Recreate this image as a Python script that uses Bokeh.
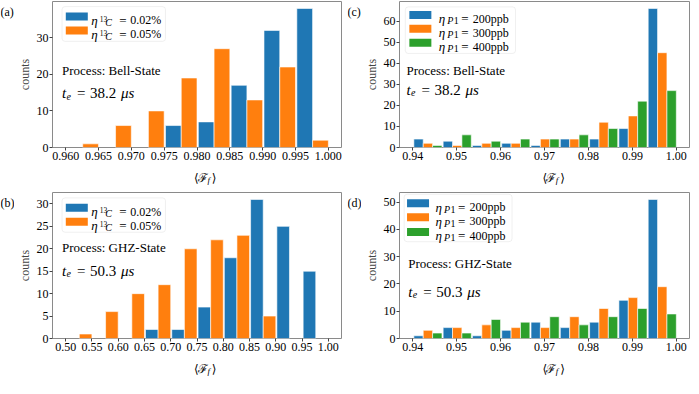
import numpy as np
from bokeh.plotting import figure
from bokeh.models import FixedTicker, PrintfTickFormatter, Label, BoxAnnotation, Range1d
from bokeh.layouts import column, row
from bokeh.embed import file_html
from bokeh.resources import INLINE

# ---------------- data ----------------
# panel (a): Bell-State, 13C concentration
a_bin_start, a_bin_width = 0.960, 0.005
a_counts_002 = [0, 0, 0, 6, 7, 17, 32, 38]
a_counts_005 = [1, 6, 10, 19, 27, 13, 22, 2]
a_xticks = [0.960, 0.965, 0.970, 0.975, 0.980, 0.985, 0.990, 0.995, 1.000]
a_yticks = [0, 10, 20, 30]

# panel (b): GHZ-State, 13C concentration
b_bin_start, b_bin_width = 0.50, 0.05
b_counts_002 = [0, 0, 0, 2, 2, 7, 18, 31, 25, 15]
b_counts_005 = [1, 6, 10, 12, 20, 22, 23, 5, 0, 0]
b_xticks = [0.50, 0.55, 0.60, 0.65, 0.70, 0.75, 0.80, 0.85, 0.90, 0.95, 1.00]
b_yticks = [0, 5, 10, 15, 20, 25, 30]

# panel (c): Bell-State, P1 concentration
c_bin_start, c_bin_width = 0.94, 0.06 / 9
c_counts_200 = [4, 3, 1, 2, 1, 4, 4, 9, 66]
c_counts_300 = [2, 1, 2, 2, 4, 4, 12, 15, 45]
c_counts_400 = [1, 6, 3, 4, 4, 6, 9, 22, 27]
c_xticks = [0.94, 0.95, 0.96, 0.97, 0.98, 0.99, 1.00]
c_yticks = [0, 10, 20, 30, 40, 50, 60]

# panel (d): GHZ-State, P1 concentration
d_bin_start, d_bin_width = 0.94, 0.06 / 9
d_counts_200 = [1, 4, 1, 3, 6, 4, 6, 14, 51]
d_counts_300 = [3, 4, 5, 4, 4, 8, 11, 15, 19]
d_counts_400 = [2, 2, 7, 6, 8, 5, 8, 11, 9]
d_xticks = [0.94, 0.95, 0.96, 0.97, 0.98, 0.99, 1.00]
d_yticks = [0, 10, 20, 30, 40, 50]

c13_labels = ["0.02%", "0.05%"]
p1_labels = ["200ppb", "300ppb", "400ppb"]

# ---------------- styling ----------------
SERIF = "Liberation Serif"
MATHF = "DejaVu Serif"
BLUE, ORANGE, GREEN = "#1f77b4", "#ff7f0e", "#2ca02c"
FH = 146          # frame height
XLAB_H = 21       # height of the strip carrying the x-axis label
LAUX_W = 14       # width of the strip carrying the panel letter


def make_fig(fw, bl, br, bt, bb, start, width, series, xticks, yticks, fmt):
    nbins = len(series[0])
    span = nbins * width
    xr = (start - 0.05 * span, start + span + 0.05 * span)
    ymax = max(max(s) for s in series)
    yr = (0, 1.05 * ymax)
    p = figure(frame_width=fw, frame_height=FH, min_border_left=bl, min_border_right=br,
               min_border_top=bt, min_border_bottom=bb,
               x_range=Range1d(*xr), y_range=Range1d(*yr),
               output_backend="svg", toolbar_location=None, tools="")
    p.background_fill_color = "white"
    p.border_fill_color = "white"
    p.outline_line_color = "#8a8a8a"
    p.outline_line_width = 1
    p.grid.visible = False
    for ax in (p.xaxis, p.yaxis):
        ax.axis_line_color = None
        ax.major_tick_in = 0
        ax.major_tick_out = 3
        ax.major_tick_line_color = "#444444"
        ax.minor_tick_line_color = None
        ax.major_label_text_font = SERIF
        ax.major_label_text_font_size = "12px"
        ax.major_label_text_color = "black"
        ax.major_label_standoff = 1
    p.xaxis.ticker = FixedTicker(ticks=xticks)
    p.xaxis.formatter = PrintfTickFormatter(format=fmt)
    p.yaxis.ticker = FixedTicker(ticks=yticks)
    p.yaxis.axis_label = "counts"
    p.yaxis.axis_label_text_font = SERIF
    p.yaxis.axis_label_text_font_size = "12px"
    p.yaxis.axis_label_text_font_style = "normal"
    p.yaxis.axis_label_standoff = 2

    # histogram bars: side-by-side within each bin
    colors = [BLUE, ORANGE, GREEN][:len(series)]
    k = np.arange(nbins)
    lo = start + k * width
    bw = 0.96 * width / len(series)
    for j, (vals, col) in enumerate(zip(series, colors)):
        vals = np.asarray(vals, dtype=float)
        left = lo + 0.04 * width + j * bw
        m = vals > 0
        p.quad(left=left[m], right=left[m] + bw, bottom=0, top=vals[m],
               fill_color=col, line_color="white", line_width=1, line_alpha=0.6)
    p._fw, p._fh = fw, FH
    p._bl, p._br, p._bt, p._bb = bl, br, bt, bb
    return p


def aux_fig(w, h):
    q = figure(width=w, height=h, min_border_left=0, min_border_right=0,
               min_border_top=0, min_border_bottom=0,
               x_range=Range1d(0, w), y_range=Range1d(0, h),
               x_axis_type=None, y_axis_type=None,
               output_backend="svg", toolbar_location=None, tools="")
    q.grid.visible = False
    q.outline_line_color = None
    q.background_fill_color = "white"
    q.border_fill_color = "white"
    return q


def to_data(p, fx, fy, dxp=0, dyp=0):
    x0, x1 = p.x_range.start, p.x_range.end
    y0, y1 = p.y_range.start, p.y_range.end
    return (x0 + (fx + dxp / p._fw) * (x1 - x0), y1 - (fy + dyp / p._fh) * (y1 - y0))


def lab(q, x, y, text, size=12, style="normal", align="left", baseline="alphabetic",
        font=SERIF):
    q.add_layout(Label(x=x, y=y, text=text, text_font=font, text_font_size=f"{size}px",
                       text_font_style=style, text_align=align, text_baseline=baseline,
                       text_color="black"))


def put(p, fx, fy, text, dxp=0, dyp=0, size=12, style="normal", align="left",
        baseline="alphabetic", font=SERIF):
    x, y = to_data(p, fx, fy, dxp, dyp)
    lab(p, x, y, text, size, style, align, baseline, font)


def legend(p, bx, rows, patch_fx, text_fx, colors, kind, values):
    l, t = to_data(p, bx[0], bx[1])
    r, b = to_data(p, bx[2], bx[3])
    p.add_layout(BoxAnnotation(left=l, right=r, top=t, bottom=b, fill_color="white",
                               fill_alpha=0.85, line_color="#cccccc", line_width=1,
                               border_radius=3))
    for fy, col, val in zip(rows, colors, values):
        l, t = to_data(p, patch_fx, fy, 0, -4)
        r, b = to_data(p, patch_fx, fy, 22, 4)
        p.add_layout(BoxAnnotation(left=l, right=r, top=t, bottom=b, fill_color=col,
                                   fill_alpha=1.0, line_color=None))
        put(p, text_fx, fy, "η", 0, 4, 13, "italic")
        if kind == "c13":
            put(p, text_fx, fy, "13", 8.5, 2.5, 7.5)
            put(p, text_fx, fy, "C", 14, 6, 10, "italic")
            put(p, text_fx, fy, "=", 28, 4, 13)
            put(p, text_fx, fy, val, 39, 4, 12)
        else:
            put(p, text_fx, fy, "P", 8.5, 6, 10, "italic")
            put(p, text_fx, fy, "1", 15, 6, 10)
            put(p, text_fx, fy, "=", 22.5, 4, 13)
            put(p, text_fx, fy, val, 34, 4, 12)


def annot(p, fx, fy_proc, fy_te, process, te):
    put(p, fx, fy_proc, process, 0, 4.3, 13)
    put(p, fx, fy_te, "t", 0, 5, 15, "italic")
    put(p, fx, fy_te, "e", 4.5, 8, 10, "italic")
    put(p, fx, fy_te, "=", 15, 5, 15)
    put(p, fx, fy_te, te, 28, 5, 15)
    put(p, fx, fy_te, "μs", 59, 5, 15, "italic")


def panel(p, letter):
    """Wrap a main figure with a left strip (panel letter) and a bottom strip (x label)."""
    main_w = p._bl + p._fw + p._br
    main_h = p._bt + p._fh + p._bb
    xl = aux_fig(main_w, XLAB_H)
    c = p._bl + p._fw / 2
    base = 8
    lab(xl, c - 7.5, base, "⟨", 12, align="right", font=MATHF)
    lab(xl, c - 3, base, "ℱ", 12, align="center", font=MATHF)
    lab(xl, c + 2.5, base - 2.5, "f", 9, "italic")
    lab(xl, c + 7.5, base, "⟩", 12, font=MATHF)
    total_h = main_h + XLAB_H
    la = aux_fig(LAUX_W, total_h)
    lab(la, 0, total_h - (p._bt + 10), letter, 12)
    return row(la, column(p, xl))


# ---------------- panels ----------------
pa = make_fig(289, 32, 6, 1, 17, a_bin_start, a_bin_width,
              [a_counts_002, a_counts_005], a_xticks, a_yticks, "%.3f")
pb = make_fig(289, 32, 6, 7, 17, b_bin_start, b_bin_width,
              [b_counts_002, b_counts_005], b_xticks, b_yticks, "%.2f")
pc = make_fig(290, 32, 4, 1, 17, c_bin_start, c_bin_width,
              [c_counts_200, c_counts_300, c_counts_400], c_xticks, c_yticks, "%.2f")
pd = make_fig(290, 32, 4, 7, 17, d_bin_start, d_bin_width,
              [d_counts_200, d_counts_300, d_counts_400], d_xticks, d_yticks, "%.2f")

legend(pa, (0.033, 0.035, 0.391, 0.273), [0.102, 0.198], 0.046, 0.134,
       [BLUE, ORANGE], "c13", c13_labels)
legend(pb, (0.033, 0.037, 0.391, 0.272), [0.104, 0.200], 0.046, 0.134,
       [BLUE, ORANGE], "c13", c13_labels)
legend(pc, (0.020, 0.037, 0.400, 0.356), [0.092, 0.187, 0.282], 0.034, 0.135,
       [BLUE, ORANGE, GREEN], "p1", p1_labels)
legend(pd, (0.016, 0.012, 0.388, 0.337), [0.074, 0.170, 0.270], 0.026, 0.124,
       [BLUE, ORANGE, GREEN], "p1", p1_labels)

annot(pa, 0.033, 0.442, 0.595, "Process: Bell-State", "38.2")
annot(pb, 0.033, 0.347, 0.503, "Process: GHZ-State", "50.3")
annot(pc, 0.024, 0.442, 0.571, "Process: Bell-State", "38.2")
annot(pd, 0.030, 0.457, 0.644, "Process: GHZ-State", "50.3")

layout = column(
    row(panel(pa, "(a)"), panel(pc, "(c)")),
    row(panel(pb, "(b)"), panel(pd, "(d)")),
)
open("out.html", "w").write(file_html(layout, INLINE))
